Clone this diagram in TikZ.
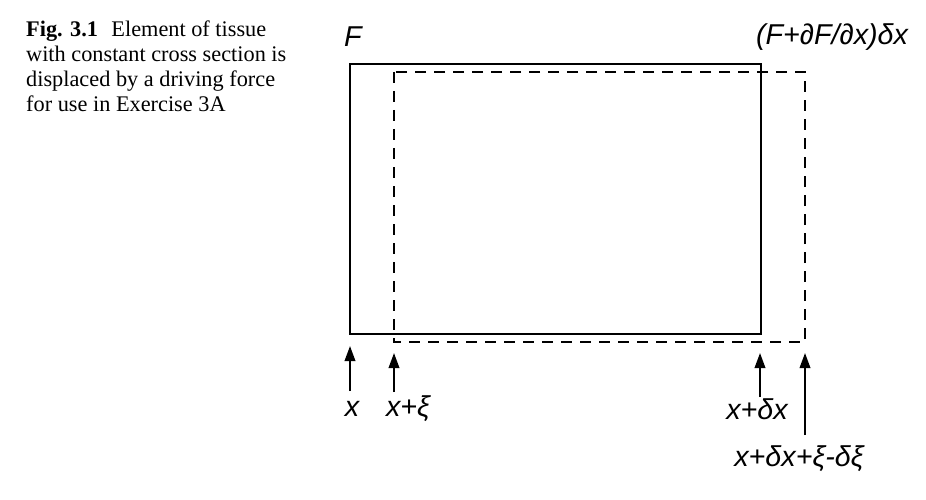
\documentclass[tikz,border=0pt]{standalone}
\usepackage{fontspec}
\setmainfont{Liberation Serif}
\newfontfamily\labfont{Liberation Sans}
\usetikzlibrary{arrows.meta}
\begin{document}
\begin{tikzpicture}[x=1pt,y=-1pt,
  solidbox/.style={line width=2.2pt},
  dashbox/.style={line width=2pt, dash pattern=on 11pt off 8pt},
  lab/.style={inner sep=0pt, font=\labfont\itshape\fontsize{28.7}{33}\selectfont},
  uparrow/.style={line width=2pt, -{Triangle[length=15pt,width=10.5pt]}},
  caption/.style={inner sep=0pt, anchor=north west, align=left, font=\fontsize{22.3}{25}\selectfont}]
\useasboundingbox (0,0) rectangle (926,500);
% caption
\node[caption] (cap) at (26,21) {\textbf{Fig. 3.1}\hspace{0.6em}Element of tissue\\with constant cross section is\\displaced by a driving force\\for use in Exercise 3A};
% rectangles
\coordinate (s1) at (350,64);
\coordinate (s2) at (761,334);
\coordinate (d1) at (394,72);
\coordinate (d2) at (805,342);
\draw[dashbox] (d1) rectangle (d2);
\draw[solidbox] (s1) rectangle (s2);
% top labels
\node[lab] (F) at (353,37) {F};
\node[lab] (FdF) at (832,37) {(F+\char"2202 F/\char"2202 x)\char"03B4 x};
% bottom arrows and labels
\coordinate (a1) at (350,346);
\coordinate (a2) at (394,353);
\coordinate (a3) at (760,353);
\coordinate (a4) at (805,353);
\node[lab] (l1) at (352,409) {x};
\node[lab] (l2) at (408,409) {x+\char"03BE};
\node[lab] (l3) at (757,409) {x+\char"03B4x};
\node[lab] (l4) at (799,459) {x+\char"03B4x+\char"03BE-\char"03B4\char"03BE};
\coordinate (b1) at (350,391);
\coordinate (b2) at (394,392);
\coordinate (b3) at (760,397);
\coordinate (b4) at (805,435);
\draw[uparrow] (b1) -- (a1);
\draw[uparrow] (b2) -- (a2);
\draw[uparrow] (b3) -- (a3);
\draw[uparrow] (b4) -- (a4);
\end{tikzpicture}
\end{document}
